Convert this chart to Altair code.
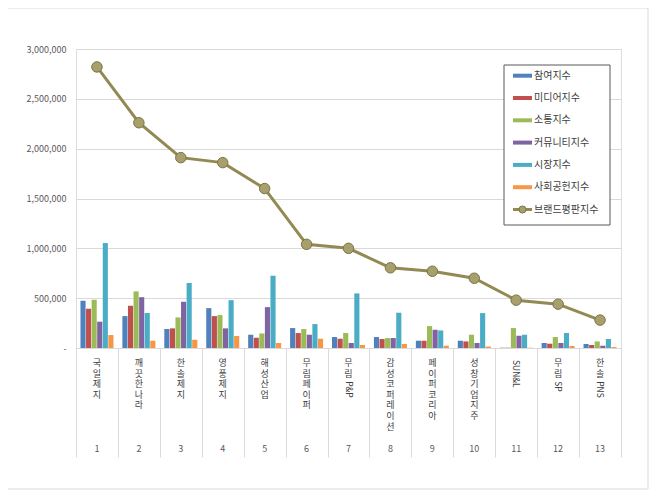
import re
import altair as alt
import pandas as pd

# 회사명 (브랜드평판 순위 순)
companies = ["국일제지", "깨끗한나라", "한솔제지", "영풍제지", "해성산업", "무림페이퍼", "무림P&P",
             "감성코퍼레이션", "페이퍼코리아", "성창기업지주", "SUN&L", "무림SP", "한솔PNS"]
ranks = [str(i) for i in range(1, 14)]

series_names = ["참여지수", "미디어지수", "소통지수", "커뮤니티지수", "시장지수", "사회공헌지수"]
line_name = "브랜드평판지수"

participation = [474000, 320000, 190000, 400000, 133000, 200000, 110000, 110000, 73000, 73000, 3000, 50000, 40000]
media = [394000, 424000, 197000, 320000, 103000, 150000, 93000, 90000, 73000, 66000, 3000, 43000, 30000]
communication = [484000, 568000, 307000, 330000, 146000, 190000, 150000, 100000, 220000, 133000, 200000, 110000, 66000]
community = [264000, 510000, 464000, 197000, 410000, 133000, 50000, 100000, 183000, 50000, 123000, 50000, 23000]
market = [1053000, 350000, 652000, 480000, 725000, 240000, 548000, 354000, 176000, 350000, 133000, 150000, 90000]
social = [130000, 73000, 83000, 120000, 50000, 93000, 30000, 40000, 23000, 15000, 3000, 20000, 10000]
brand = [2820000, 2260000, 1910000, 1860000, 1600000, 1040000, 1000000, 805000, 770000, 700000, 480000, 440000, 280000]

colors = ["#4f81bd", "#c0504d", "#9bbb59", "#8064a2", "#4bacc6", "#f79646", "#938953"]
all_names = series_names + [line_name]

rows = []
for s, vals in zip(series_names, [participation, media, communication, community, market, social]):
    for c, v in zip(companies, vals):
        rows.append({"company": c, "series": s, "value": v})
bars_df = pd.DataFrame(rows)
line_df = pd.DataFrame({"company": companies, "series": line_name, "value": brand})

lab_rows = []
for c, r in zip(companies, ranks):
    kor = re.match(r"^[가-힣]*", c).group(0)
    lab_rows.append({"company": c, "rank": r, "kor": "\n".join(kor), "latin": c[len(kor):], "nk": len(kor)})
labels_df = pd.DataFrame(lab_rows)
legend_df = pd.DataFrame({"series": all_names, "idx": range(len(all_names))})

font = "Noto Sans CJK KR"
color_scale = alt.Scale(domain=all_names, range=colors)

x_enc = alt.X("company:N", sort=companies, scale=alt.Scale(paddingInner=0, paddingOuter=0),
              axis=alt.Axis(labels=False, title=None, tickBand="extent", tickSize=109,
                            tickColor="#d9d9d9", domainColor="#d9d9d9", grid=False))
x_same = alt.X("company:N", sort=companies)

y_enc = alt.Y("value:Q", scale=alt.Scale(domain=[0, 3000000], nice=False),
              axis=alt.Axis(values=[0, 500000, 1000000, 1500000, 2000000, 2500000, 3000000],
                            labelExpr="datum.value == 0 ? '-' : format(datum.value, ',')",
                            grid=True, gridColor="#d9d9d9", domain=False, ticks=False,
                            labelFontSize=9, labelColor="#595959", labelPadding=10,
                            labelFont=font, title=None))

frame = alt.Chart(alt.Data(values=[{}])).mark_rect(fillOpacity=0, stroke="#d9d9d9").encode(
    x=alt.value(-69), x2=alt.value(572), y=alt.value(-41), y2=alt.value(440))

bars = alt.Chart(bars_df).mark_bar().encode(
    x=x_enc,
    xOffset=alt.XOffset("series:N", sort=series_names,
                        scale=alt.Scale(paddingOuter=0.8, paddingInner=0.08)),
    y=y_enc,
    color=alt.Color("series:N", scale=color_scale, legend=None),
)

line = alt.Chart(line_df).mark_line(strokeWidth=3).encode(
    x=x_same, y="value:Q", color=alt.Color("series:N", legend=None))

points = alt.Chart(line_df).mark_circle(size=110, opacity=1, color="#a8a06c",
                                        stroke="#7a7346", strokeWidth=1).encode(
    x=x_same, y="value:Q")

kor_text = alt.Chart(labels_df).mark_text(
    baseline="top", align="center", lineBreak="\n", lineHeight=10.6,
    font=font, fontSize=9, color="#404040").encode(
    x=x_same, y=alt.value(310), text="kor:N")

latin_text = alt.Chart(labels_df).transform_calculate(
    ly="311 + datum.nk * 10.6").mark_text(
    angle=90, align="left", baseline="middle", font=font, fontSize=8.5, color="#404040").encode(
    x=x_same, y=alt.Y("ly:Q", scale=None), text="latin:N")

rank_text = alt.Chart(labels_df).mark_text(
    baseline="middle", align="center", font=font, fontSize=9, color="#595959").encode(
    x=x_same, y=alt.value(400), text="rank:N")

# 범례 (Excel 스타일 박스)
leg_box = alt.Chart(alt.Data(values=[{}])).mark_rect(fill="white", stroke="#595959", strokeWidth=1).encode(
    x=alt.value(428), x2=alt.value(534), y=alt.value(16), y2=alt.value(176))

leg_base = alt.Chart(legend_df).transform_calculate(
    ly="26.7 + datum.idx * 22.3", ly0="24.7 + datum.idx * 22.3", ly1="28.7 + datum.idx * 22.3")

leg_bars = leg_base.transform_filter(f"datum.series != '{line_name}'").mark_rect().encode(
    x=alt.value(437), x2=alt.value(456),
    y=alt.Y("ly0:Q", scale=None), y2="ly1:Q",
    color=alt.Color("series:N", legend=None))

leg_line = leg_base.transform_filter(f"datum.series == '{line_name}'").mark_rule(
    strokeWidth=3, color="#938953").encode(
    x=alt.value(437), x2=alt.value(456), y=alt.Y("ly:Q", scale=None))

leg_dot = leg_base.transform_filter(f"datum.series == '{line_name}'").mark_circle(
    size=50, opacity=1, color="#a8a06c", stroke="#7a7346", strokeWidth=1).encode(
    x=alt.value(446.5), y=alt.Y("ly:Q", scale=None))

leg_text = leg_base.mark_text(align="left", baseline="middle", font=font, fontSize=10,
                              color="#404040").encode(
    x=alt.value(458), y=alt.Y("ly:Q", scale=None), text="series:N")

chart = alt.layer(frame, bars, line, points, kor_text, latin_text, rank_text,
                  leg_box, leg_bars, leg_line, leg_dot, leg_text).properties(
    width=545, height=299,
    autosize=alt.AutoSizeParams(type="none"),
    padding={"left": 68, "top": 41, "right": 30, "bottom": 142},
).configure_view(stroke=None).configure(font=font, background="white")

chart.save("out.html", embed_options={"renderer": "svg", "actions": False})
